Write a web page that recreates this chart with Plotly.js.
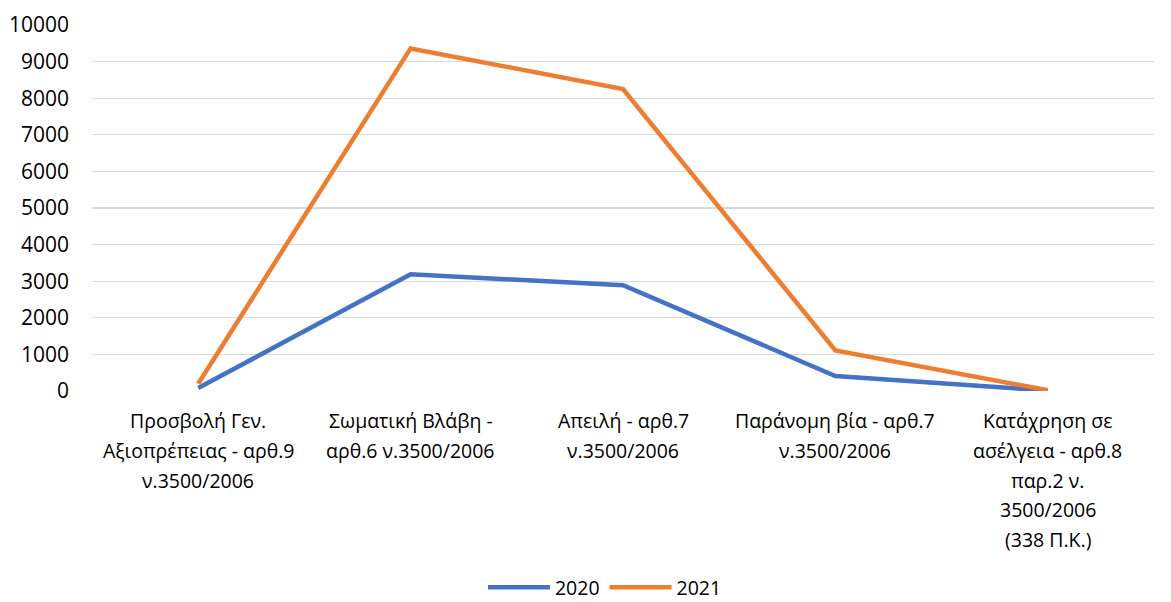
<!DOCTYPE html>
<html>
<head>
<meta charset="utf-8">
<script src="https://cdn.plot.ly/plotly-3.0.1.min.js"></script>
<style>html,body{margin:0;padding:0;background:#fff;}#chart{width:1171px;height:602px;}</style>
</head>
<body>
<div id="chart"></div>
<script>
const categories = [
  "Προσβολή Γεν.<br>Αξιοπρέπειας - αρθ.9<br>ν.3500/2006",
  "Σωματική Βλάβη -<br>αρθ.6 ν.3500/2006",
  "Απειλή - αρθ.7<br>ν.3500/2006",
  "Παράνομη βία - αρθ.7<br>ν.3500/2006",
  "Κατάχρηση σε<br>ασέλγεια - αρθ.8<br>παρ.2 ν.<br>3500/2006<br>(338 Π.Κ.)"
];
const seriesNames = ["2020", "2021"];
const values2020 = [80, 3190, 2890, 410, 10];
const values2021 = [200, 9360, 8250, 1110, 20];
const yTickVals = [0,1000,2000,3000,4000,5000,6000,7000,8000,9000,10000];

const FONT = "'Open Sans', 'Noto Sans', sans-serif";
const xIdx = categories.map((_, i) => i);

const traces = [
  {x: xIdx, y: values2020, name: seriesNames[0], type: 'scatter', mode: 'lines',
   line: {color: '#4472C4', width: 4.5}},
  {x: xIdx, y: values2021, name: seriesNames[1], type: 'scatter', mode: 'lines',
   line: {color: '#ED7D31', width: 4.5}}
];

// x category labels as annotations (one per line) for Excel-like line spacing
const annotations = [];
categories.forEach((lab, i) => {
  lab.split('<br>').forEach((ln, j) => {
    annotations.push({
      x: i, xref: 'x', y: 0, yref: 'paper', yanchor: 'top', xanchor: 'center',
      yshift: -(14 + j * 29.8), text: ln, showarrow: false,
      font: {family: FONT, size: 19.5, color: '#000'}
    });
  });
});

const layout = {
  width: 1171, height: 602,
  margin: {l: 92, r: 17, t: 25, b: 211.3, autoexpand: false},
  paper_bgcolor: '#fff', plot_bgcolor: '#fff',
  showlegend: true,
  legend: {orientation: 'h', x: 0.483, xanchor: 'center', y: -0.537, yanchor: 'middle',
           font: {family: FONT, size: 19.5, color: '#000'}, traceorder: 'normal',
           itemwidth: 62, bgcolor: 'rgba(0,0,0,0)'},
  xaxis: {range: [-0.5, 4.5], tickvals: xIdx, showticklabels: false, showgrid: false,
          zeroline: false, showline: false, ticks: '', automargin: false},
  yaxis: {range: [0, 10000], tickvals: yTickVals, ticktext: yTickVals.map(String),
          showgrid: true, gridcolor: '#d9d9d9', gridwidth: 1.3, zeroline: false,
          showline: false, ticks: '', ticklabelstandoff: 22, automargin: false,
          tickfont: {family: FONT, size: 21, color: '#000'}},
  annotations: annotations,
  font: {family: FONT, color: '#000'}
};

Plotly.newPlot('chart', traces, layout, {displayModeBar: false, staticPlot: true});
</script>
</body>
</html>
